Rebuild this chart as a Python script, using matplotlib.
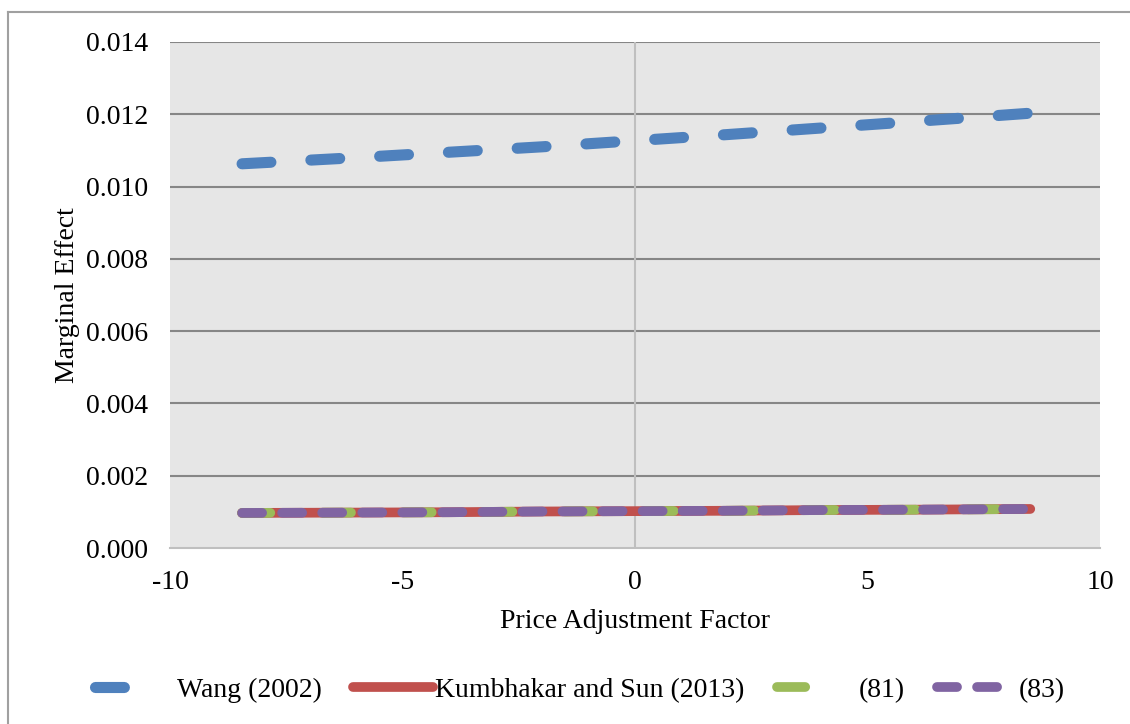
import matplotlib
matplotlib.use('Agg')
import matplotlib.pyplot as plt
from matplotlib.lines import Line2D

plt.rcParams['font.family'] = ['Liberation Serif', 'DejaVu Serif']
plt.rcParams['axes.unicode_minus'] = False

# price adjustment factor and marginal effects
factor = [-8.45, -6.0, -4.0, -2.0, 0.0, 2.0, 4.0, 6.0, 8.5]
wang = [0.01063, 0.01080, 0.01095, 0.01110, 0.01127, 0.01144, 0.01162, 0.01180, 0.01203]
kumbhakar = [0.00097, 0.00098, 0.00099, 0.00101, 0.00102, 0.00103, 0.00105, 0.00106, 0.00108]
eq81 = [0.00097, 0.00098, 0.00099, 0.00101, 0.00102, 0.00103, 0.00105, 0.00106, 0.00108]
eq83 = [0.00097, 0.00098, 0.00099, 0.00101, 0.00102, 0.00103, 0.00105, 0.00106, 0.00108]

labels = ['Wang (2002)', 'Kumbhakar and Sun (2013)', '(81)', '(83)']
colors = ['#4f81bd', '#c0504d', '#9bbb59', '#8064a2']

fig = plt.figure(figsize=(11.3, 7.24), dpi=100)
ax = fig.add_axes([170/1130, 1-548/724, 930/1130, 506/724])
ax.set_facecolor('#e6e6e6')

ax.plot(factor, wang, color=colors[0], lw=8, dashes=(2.6, 3.6),
        dash_capstyle='round', zorder=3)
ax.plot(factor, kumbhakar, color=colors[1], lw=7, solid_capstyle='round', zorder=3)
ax.plot(factor, eq81, color=colors[2], lw=7, dashes=(2.9, 5.4),
        dash_capstyle='round', zorder=4)
ax.plot(factor, eq83, color=colors[3], lw=7, dashes=(2.06, 2.06),
        dash_capstyle='round', zorder=5)

ax.set_xlim(-10, 10)
ax.set_ylim(0, 0.014)
ax.set_xticks([-10, -5, 0, 5, 10])
ax.set_yticks([0.000, 0.002, 0.004, 0.006, 0.008, 0.010, 0.012, 0.014])
ax.set_yticklabels(['%.3f' % v for v in ax.get_yticks()])
ax.tick_params(length=0, labelsize=20)
ax.tick_params(axis='y', pad=16)
ax.tick_params(axis='x', pad=16)

for v in ax.get_yticks()[1:]:
    ax.axhline(v, color='#868686', lw=1.5, zorder=1)
ax.axvline(0, color='#bfbfbf', lw=1.5, zorder=1)
for s in ['top', 'right', 'left']:
    ax.spines[s].set_visible(False)
ax.spines['bottom'].set_color('#bfbfbf')
ax.spines['bottom'].set_linewidth(1.5)

ax.set_xlabel('Price Adjustment Factor', fontsize=20, labelpad=10)
ax.set_ylabel('Marginal Effect', fontsize=20, labelpad=4)

# legend keys: one dash for Wang and (81), two for (83)
handles = [
    Line2D([], [], color=colors[0], lw=8, dashes=(2.6, 10), dash_capstyle='round'),
    Line2D([], [], color=colors[1], lw=7, solid_capstyle='round'),
    Line2D([], [], color=colors[2], lw=7, dashes=(2.9, 10), dash_capstyle='round'),
    Line2D([], [], color=colors[3], lw=7, dashes=(2.06, 2.06), dash_capstyle='round'),
]
fig.legend(handles, labels, loc='center', bbox_to_anchor=(0.513, 0.047), ncol=4,
           frameon=False, fontsize=20, handlelength=2.85, handletextpad=0.1,
           columnspacing=1.15)

# outer chart border
fig.add_artist(Line2D([8/1130, 8/1130], [0, 1-12/724], color='#a0a0a0', lw=1.5))
fig.add_artist(Line2D([8/1130, 1], [1-12/724, 1-12/724], color='#a0a0a0', lw=1.5))

fig.savefig('out.png', dpi=100)
